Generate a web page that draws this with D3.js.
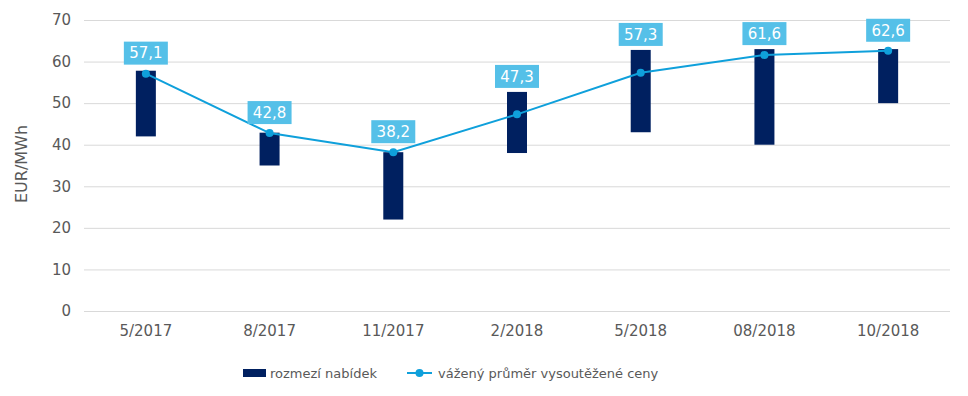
<!DOCTYPE html>
<html>
<head>
<meta charset="utf-8">
<script src="https://cdn.jsdelivr.net/npm/d3@7"></script>
<style>
  body { margin: 0; background: #fff; }
  text { font-family: "DejaVu Sans", Verdana, sans-serif; }
</style>
</head>
<body>
<div id="chart"></div>
<script>
// Data
var periods = ["5/2017", "8/2017", "11/2017", "2/2018", "5/2018", "08/2018", "10/2018"];
var bidMin = [42, 35, 22, 38, 43, 40, 50];
var bidMax = [57.8, 42.9, 38.2, 52.7, 62.8, 63, 63];
var weightedAvg = [57.1, 42.8, 38.2, 47.3, 57.3, 61.6, 62.6];
var yTicks = [0, 10, 20, 30, 40, 50, 60, 70];

var svgWidth = 968;
var svgHeight = 396;

var margin = { top: 20, right: 18, bottom: 85, left: 84 };
var width = svgWidth - margin.left - margin.right;
var height = svgHeight - margin.top - margin.bottom;

var navy = "#002060";
var blue = "#0fa0db";
var labelBg = "#55c0e8";

var svg = d3.select("#chart")
    .append("svg")
    .attr("width", svgWidth)
    .attr("height", svgHeight);

var chartGroup = svg.append("g")
    .attr("transform", `translate(${margin.left}, ${margin.top})`);

var xScale = d3.scaleBand()
    .domain(periods)
    .range([0, width]);

var yScale = d3.scaleLinear()
    .domain([0, 70])
    .range([height, 0]);

// gridlines
chartGroup.append("g")
    .selectAll("line")
    .data(yTicks)
    .enter()
    .append("line")
    .attr("x1", 0)
    .attr("x2", width)
    .attr("y1", d => yScale(d) + 0.5)
    .attr("y2", d => yScale(d) + 0.5)
    .attr("stroke", "#d9d9d9")
    .attr("stroke-width", 1);

// y axis
var leftAxis = d3.axisLeft(yScale).tickValues(yTicks).tickSize(0).tickPadding(13);
var yAxis = chartGroup.append("g").call(leftAxis);
yAxis.select(".domain").remove();
yAxis.selectAll("text")
    .attr("font-size", "15px")
    .attr("fill", "#595959")
    .style("font-family", "DejaVu Sans, Verdana, sans-serif");

// x axis
var bottomAxis = d3.axisBottom(xScale).tickSize(0).tickPadding(14);
var xAxis = chartGroup.append("g")
    .attr("transform", `translate(0, ${height})`)
    .call(bottomAxis);
xAxis.select(".domain").remove();
xAxis.selectAll("text")
    .attr("font-size", "15px")
    .attr("fill", "#595959")
    .style("font-family", "DejaVu Sans, Verdana, sans-serif");

// axis title
svg.append("text")
    .attr("transform", "rotate(-90)")
    .attr("x", -164)
    .attr("y", 27)
    .attr("text-anchor", "middle")
    .attr("font-size", "16px")
    .attr("fill", "#595959")
    .text("EUR/MWh");

// floating bars: range of bids
var barWidth = 20;
var cx = d => xScale(d) + xScale.bandwidth() / 2;

chartGroup.append("g")
    .selectAll("rect")
    .data(periods)
    .enter()
    .append("rect")
    .attr("x", d => cx(d) - barWidth / 2)
    .attr("y", (d, i) => yScale(bidMax[i]))
    .attr("width", barWidth)
    .attr("height", (d, i) => yScale(bidMin[i]) - yScale(bidMax[i]))
    .attr("fill", navy);

// weighted average line
var line = d3.line()
    .x((d, i) => cx(periods[i]))
    .y(d => yScale(d));

chartGroup.append("path")
    .datum(weightedAvg)
    .attr("d", line)
    .attr("fill", "none")
    .attr("stroke", blue)
    .attr("stroke-width", 2);

chartGroup.append("g")
    .selectAll("circle")
    .data(weightedAvg)
    .enter()
    .append("circle")
    .attr("cx", (d, i) => cx(periods[i]))
    .attr("cy", d => yScale(d))
    .attr("r", 4)
    .attr("fill", blue);

// value labels: sit above the point, but clear of the bar top
var labels = chartGroup.append("g")
    .selectAll("g")
    .data(weightedAvg)
    .enter()
    .append("g")
    .attr("transform", function(d, i) {
        var bottom = Math.min(yScale(d) - 9, yScale(bidMax[i]) - 4);
        return `translate(${cx(periods[i])}, ${bottom - 11.5})`;
    });

labels.append("rect")
    .attr("x", -22)
    .attr("y", -11.5)
    .attr("width", 44)
    .attr("height", 23)
    .attr("fill", labelBg);

labels.append("text")
    .attr("text-anchor", "middle")
    .attr("dy", "0.35em")
    .attr("font-size", "15px")
    .attr("fill", "#fff")
    .text(d => String(d).replace(".", ","));

// legend
var legend = svg.append("g")
    .attr("transform", "translate(243, 373)");

legend.append("rect")
    .attr("x", 0)
    .attr("y", -4)
    .attr("width", 23)
    .attr("height", 8)
    .attr("fill", navy);

legend.append("text")
    .attr("x", 27)
    .attr("dy", "0.35em")
    .attr("font-size", "13px")
    .attr("fill", "#595959")
    .text("rozmezí nabídek");

legend.append("line")
    .attr("x1", 164)
    .attr("x2", 189)
    .attr("y1", 0)
    .attr("y2", 0)
    .attr("stroke", blue)
    .attr("stroke-width", 2);

legend.append("circle")
    .attr("cx", 176.5)
    .attr("cy", 0)
    .attr("r", 4)
    .attr("fill", blue);

legend.append("text")
    .attr("x", 195)
    .attr("dy", "0.35em")
    .attr("font-size", "13px")
    .attr("fill", "#595959")
    .text("vážený průměr vysoutěžené ceny");
</script>
</body>
</html>
